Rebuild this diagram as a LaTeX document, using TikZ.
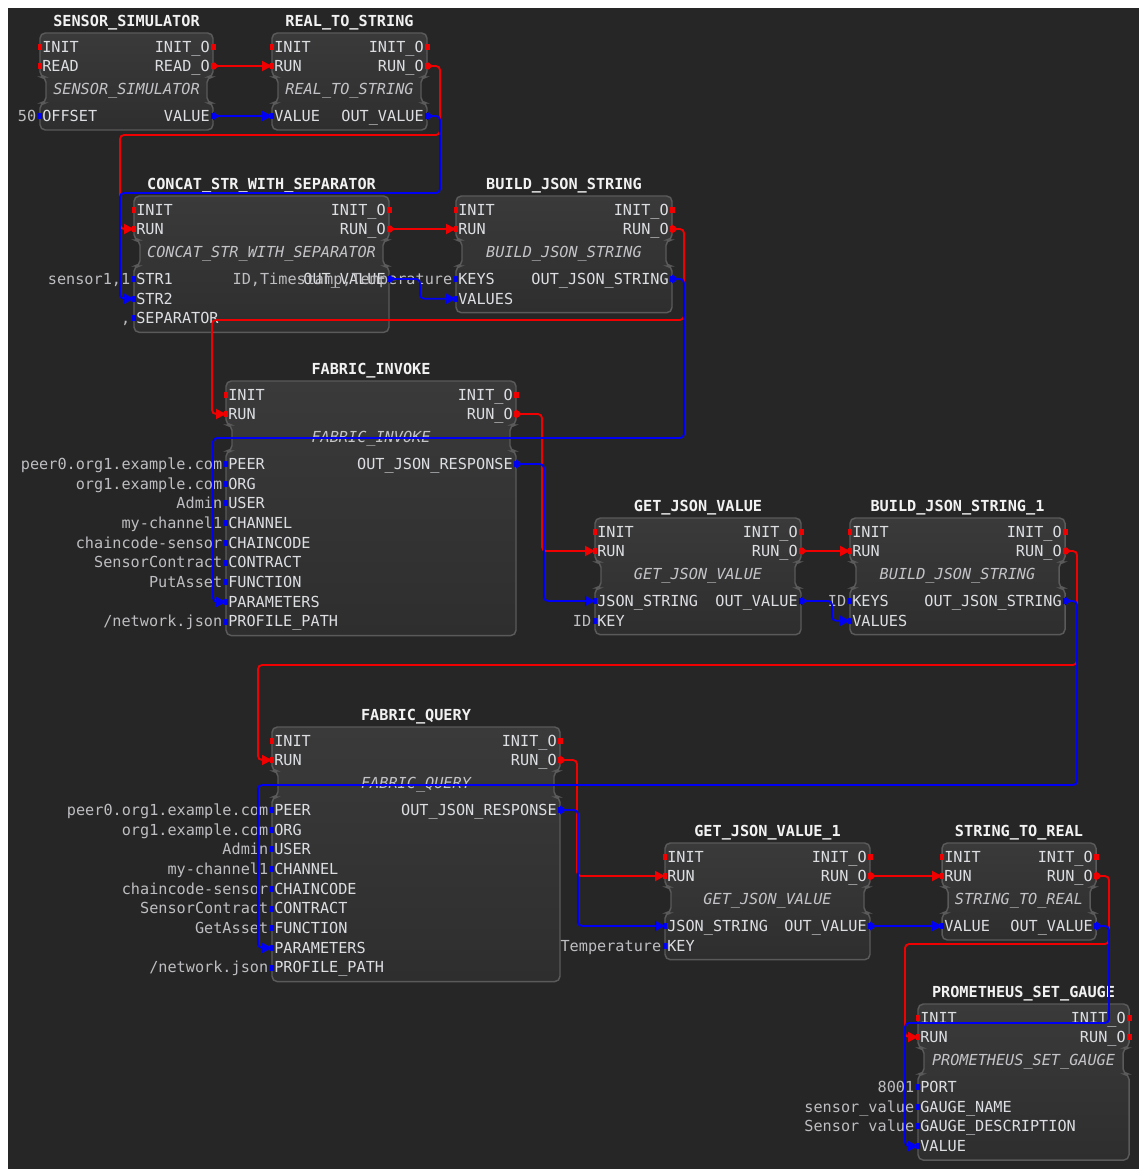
\documentclass[tikz,border=0pt]{standalone}
\usepackage{fontspec}
\newfontfamily\fbmono{DejaVu Sans Mono}
\usetikzlibrary{arrows.meta, calc}
\definecolor{BgDark}  {HTML}{262626}
\definecolor{BoxTop}  {HTML}{3A3A3A}
\definecolor{BoxBot}  {HTML}{2E2E2E}
\definecolor{BoxLine} {HTML}{5A5A5A}
\definecolor{EvRed}   {HTML}{F00000}
\definecolor{DtBlue}  {HTML}{0000F5}
\definecolor{PortTxt} {HTML}{DCDEE2}
\definecolor{TypeTxt} {HTML}{C4C4C8}
\definecolor{CstTxt}  {HTML}{BEBEC2}
\definecolor{TtlTxt}  {HTML}{F2F2F2}
\tikzset{
  fbbox/.style={
    draw=BoxLine, line width=1.1pt, rounded corners=4pt,
    top color=BoxTop, bottom color=BoxBot,
  },
  fbtitle/.style={
    font=\fbmono\bfseries\fontsize{11.4}{13}\selectfont,
    text=TtlTxt, inner sep=0pt,
  },
  fbtype/.style={
    font=\fbmono\itshape\fontsize{11.4}{13}\selectfont,
    text=TypeTxt, inner sep=0pt,
  },
  plbl/.style={
    font=\fbmono\fontsize{11.4}{13}\selectfont, text=PortTxt,
    inner sep=0pt, text height=8pt, text depth=0pt,
  },
  cstlbl/.style={
    font=\fbmono\fontsize{11.4}{13}\selectfont, text=CstTxt,
    inner sep=0pt, text height=8pt, text depth=0pt,
  },
  evw/.style={
    draw=EvRed, line width=1.4pt, rounded corners=3pt,
    {Triangle[length=4.5pt,width=6.5pt,reversed]}-{Triangle[length=7.5pt,width=7.5pt]},
  },
  dtw/.style={
    draw=DtBlue, line width=1.4pt, rounded corners=3pt,
    {Triangle[length=4.5pt,width=6.5pt,reversed]}-{Triangle[length=7.5pt,width=7.5pt]},
  },
}
% block frame: name, title, type, number of data rows (uses \fbL \fbT \fbR)
\newcommand{\fbframe}[4]{%
  \pgfmathsetmacro{\fbB}{\fbT+83+19.7*(#4-1)+14}
  \path[fbbox] (\fbL,\fbT) -- (\fbR,\fbT) -- (\fbR,\fbT+44) -- (\fbR-6,\fbT+44)
    -- (\fbR-6,\fbT+70) -- (\fbR,\fbT+70) -- (\fbR,\fbB) -- (\fbL,\fbB)
    -- (\fbL,\fbT+70) -- (\fbL+6,\fbT+70) -- (\fbL+6,\fbT+44) -- (\fbL,\fbT+44) -- cycle;
  \node[fbtitle] (#1) at ({(\fbL+\fbR)/2},\fbT-10) {#2};
  \node[fbtype] (#1-type) at ({(\fbL+\fbR)/2},\fbT+58) {#3};
}
% ports: id, label, row
\newcommand{\evin}[3]{%
  \coordinate (#1) at (\fbL,\fbT+14+19*#3);
  \fill[EvRed] ($(#1)+(-2.5,-3)$) rectangle ($(#1)+(2,3)$);
  \node[plbl, anchor=west] (#1-l) at ($(#1)+(2,0)$) {#2};
}
\newcommand{\evout}[3]{%
  \coordinate (#1) at (\fbR,\fbT+14+19*#3);
  \fill[EvRed] ($(#1)+(-2,-3)$) rectangle ($(#1)+(2.5,3)$);
  \node[plbl, anchor=east] (#1-l) at ($(#1)+(-3,0)$) {#2};
}
\newcommand{\dtin}[3]{%
  \coordinate (#1) at (\fbL,\fbT+83+19.7*#3);
  \fill[DtBlue] ($(#1)+(-2.5,-3)$) rectangle ($(#1)+(2,3)$);
  \node[plbl, anchor=west] (#1-l) at ($(#1)+(2,0)$) {#2};
}
\newcommand{\dtout}[3]{%
  \coordinate (#1) at (\fbR,\fbT+83+19.7*#3);
  \fill[DtBlue] ($(#1)+(-2,-3)$) rectangle ($(#1)+(2.5,3)$);
  \node[plbl, anchor=east] (#1-l) at ($(#1)+(-3,0)$) {#2};
}
\newcommand{\cst}[2]{%
  \node[cstlbl, anchor=east] (#1-c) at ($(#1)+(-3.5,0)$) {#2};
}

\begin{document}
\begin{tikzpicture}[x=0.75pt,y=-0.75pt]
  \useasboundingbox (0,0) rectangle (1139,1169);
  \fill[white] (0,0) rectangle (1139,1169);
  \fill[BgDark] (8,8) rectangle (1139,1169);

  % SENSOR_SIMULATOR
  \def\fbL{40}\def\fbT{33}\def\fbR{213}
  \fbframe{sim}{SENSOR\_SIMULATOR}{SENSOR\_SIMULATOR}{1}
  \evin{sim-init}{INIT}{0}      \evin{sim-read}{READ}{1}
  \evout{sim-initO}{INIT\_O}{0} \evout{sim-readO}{READ\_O}{1}
  \dtin{sim-offset}{OFFSET}{0}  \cst{sim-offset}{50}
  \dtout{sim-value}{VALUE}{0}

  % REAL_TO_STRING
  \def\fbL{272}\def\fbT{33}\def\fbR{427}
  \fbframe{r2s}{REAL\_TO\_STRING}{REAL\_TO\_STRING}{1}
  \evin{r2s-init}{INIT}{0}      \evin{r2s-run}{RUN}{1}
  \evout{r2s-initO}{INIT\_O}{0} \evout{r2s-runO}{RUN\_O}{1}
  \dtin{r2s-value}{VALUE}{0}
  \dtout{r2s-outvalue}{OUT\_VALUE}{0}

  % CONCAT_STR_WITH_SEPARATOR
  \def\fbL{134}\def\fbT{196}\def\fbR{389}
  \fbframe{concat}{CONCAT\_STR\_WITH\_SEPARATOR}{CONCAT\_STR\_WITH\_SEPARATOR}{3}
  \evin{concat-init}{INIT}{0}      \evin{concat-run}{RUN}{1}
  \evout{concat-initO}{INIT\_O}{0} \evout{concat-runO}{RUN\_O}{1}
  \dtin{concat-str1}{STR1}{0}      \cst{concat-str1}{sensor1,1}
  \dtin{concat-str2}{STR2}{1}
  \dtin{concat-sep}{SEPARATOR}{2}  \cst{concat-sep}{,}
  \dtout{concat-outvalue}{OUT\_VALUE}{0}

  % BUILD_JSON_STRING
  \def\fbL{456}\def\fbT{196}\def\fbR{672}
  \fbframe{bjs}{BUILD\_JSON\_STRING}{BUILD\_JSON\_STRING}{2}
  \evin{bjs-init}{INIT}{0}      \evin{bjs-run}{RUN}{1}
  \evout{bjs-initO}{INIT\_O}{0} \evout{bjs-runO}{RUN\_O}{1}
  \dtin{bjs-keys}{KEYS}{0}      \cst{bjs-keys}{ID,Timestamp,Temperature}
  \dtin{bjs-values}{VALUES}{1}
  \dtout{bjs-outjson}{OUT\_JSON\_STRING}{0}

  % FABRIC_INVOKE
  \def\fbL{226}\def\fbT{381}\def\fbR{516}
  \fbframe{finv}{FABRIC\_INVOKE}{FABRIC\_INVOKE}{9}
  \evin{finv-init}{INIT}{0}      \evin{finv-run}{RUN}{1}
  \evout{finv-initO}{INIT\_O}{0} \evout{finv-runO}{RUN\_O}{1}
  \foreach \pid/\plb/\pr in {peer/PEER/0, org/ORG/1, user/USER/2,
      channel/CHANNEL/3, chaincode/CHAINCODE/4, contract/CONTRACT/5,
      function/FUNCTION/6, parameters/PARAMETERS/7, profile/PROFILE\_PATH/8}{
    \dtin{finv-\pid}{\plb}{\pr}
  }
  \foreach \pid/\cv in {peer/peer0.org1.example.com, org/org1.example.com,
      user/Admin, channel/my-channel1, chaincode/chaincode-sensor,
      contract/SensorContract, function/PutAsset}{
    \cst{finv-\pid}{\cv}
  }
  \cst{finv-profile}{/network.json}
  \dtout{finv-outjson}{OUT\_JSON\_RESPONSE}{0}

  % GET_JSON_VALUE
  \def\fbL{595}\def\fbT{518}\def\fbR{801}
  \fbframe{gjv}{GET\_JSON\_VALUE}{GET\_JSON\_VALUE}{2}
  \evin{gjv-init}{INIT}{0}      \evin{gjv-run}{RUN}{1}
  \evout{gjv-initO}{INIT\_O}{0} \evout{gjv-runO}{RUN\_O}{1}
  \dtin{gjv-json}{JSON\_STRING}{0}
  \dtin{gjv-key}{KEY}{1}        \cst{gjv-key}{ID}
  \dtout{gjv-outvalue}{OUT\_VALUE}{0}

  % BUILD_JSON_STRING_1
  \def\fbL{850}\def\fbT{518}\def\fbR{1065}
  \fbframe{bjs1}{BUILD\_JSON\_STRING\_1}{BUILD\_JSON\_STRING}{2}
  \evin{bjs1-init}{INIT}{0}      \evin{bjs1-run}{RUN}{1}
  \evout{bjs1-initO}{INIT\_O}{0} \evout{bjs1-runO}{RUN\_O}{1}
  \dtin{bjs1-keys}{KEYS}{0}      \cst{bjs1-keys}{ID}
  \dtin{bjs1-values}{VALUES}{1}
  \dtout{bjs1-outjson}{OUT\_JSON\_STRING}{0}

  % FABRIC_QUERY
  \def\fbL{272}\def\fbT{727}\def\fbR{560}
  \fbframe{fqry}{FABRIC\_QUERY}{FABRIC\_QUERY}{9}
  \evin{fqry-init}{INIT}{0}      \evin{fqry-run}{RUN}{1}
  \evout{fqry-initO}{INIT\_O}{0} \evout{fqry-runO}{RUN\_O}{1}
  \foreach \pid/\plb/\pr in {peer/PEER/0, org/ORG/1, user/USER/2,
      channel/CHANNEL/3, chaincode/CHAINCODE/4, contract/CONTRACT/5,
      function/FUNCTION/6, parameters/PARAMETERS/7, profile/PROFILE\_PATH/8}{
    \dtin{fqry-\pid}{\plb}{\pr}
  }
  \foreach \pid/\cv in {peer/peer0.org1.example.com, org/org1.example.com,
      user/Admin, channel/my-channel1, chaincode/chaincode-sensor,
      contract/SensorContract, function/GetAsset}{
    \cst{fqry-\pid}{\cv}
  }
  \cst{fqry-profile}{/network.json}
  \dtout{fqry-outjson}{OUT\_JSON\_RESPONSE}{0}

  % GET_JSON_VALUE_1
  \def\fbL{665}\def\fbT{843}\def\fbR{870}
  \fbframe{gjv1}{GET\_JSON\_VALUE\_1}{GET\_JSON\_VALUE}{2}
  \evin{gjv1-init}{INIT}{0}      \evin{gjv1-run}{RUN}{1}
  \evout{gjv1-initO}{INIT\_O}{0} \evout{gjv1-runO}{RUN\_O}{1}
  \dtin{gjv1-json}{JSON\_STRING}{0}
  \dtin{gjv1-key}{KEY}{1}        \cst{gjv1-key}{Temperature}
  \dtout{gjv1-outvalue}{OUT\_VALUE}{0}

  % STRING_TO_REAL
  \def\fbL{942}\def\fbT{843}\def\fbR{1096}
  \fbframe{s2r}{STRING\_TO\_REAL}{STRING\_TO\_REAL}{1}
  \evin{s2r-init}{INIT}{0}      \evin{s2r-run}{RUN}{1}
  \evout{s2r-initO}{INIT\_O}{0} \evout{s2r-runO}{RUN\_O}{1}
  \dtin{s2r-value}{VALUE}{0}
  \dtout{s2r-outvalue}{OUT\_VALUE}{0}

  % PROMETHEUS_SET_GAUGE
  \def\fbL{918}\def\fbT{1004}\def\fbR{1129}
  \fbframe{psg}{PROMETHEUS\_SET\_GAUGE}{PROMETHEUS\_SET\_GAUGE}{4}
  \evin{psg-init}{INIT}{0}      \evin{psg-run}{RUN}{1}
  \evout{psg-initO}{INIT\_O}{0} \evout{psg-runO}{RUN\_O}{1}
  \dtin{psg-port}{PORT}{0}              \cst{psg-port}{8001}
  \dtin{psg-gname}{GAUGE\_NAME}{1}      \cst{psg-gname}{sensor\_value}
  \dtin{psg-gdesc}{GAUGE\_DESCRIPTION}{2} \cst{psg-gdesc}{Sensor value}
  \dtin{psg-value}{VALUE}{3}

  % event connections
  \draw[evw] (sim-readO) -- (r2s-run);
  \draw[evw] (r2s-runO) -- ++(13,0) -- ++(0,69)
    -| ($(concat-run)+(-14,0)$) -- (concat-run);
  \draw[evw] (concat-runO) -- (bjs-run);
  \draw[evw] (bjs-runO) -- ++(12,0) -- ++(0,91)
    -| ($(finv-run)+(-14,0)$) -- (finv-run);
  \draw[evw] (finv-runO) -- ++(26,0) |- (gjv-run);
  \draw[evw] (gjv-runO) -- (bjs1-run);
  \draw[evw] (bjs1-runO) -- ++(12,0) -- ++(0,114)
    -| ($(fqry-run)+(-14,0)$) -- (fqry-run);
  \draw[evw] (fqry-runO) -- ++(17,0) |- (gjv1-run);
  \draw[evw] (gjv1-runO) -- (s2r-run);
  \draw[evw] (s2r-runO) -- ++(13,0) -- ++(0,68)
    -| ($(psg-run)+(-13,0)$) -- (psg-run);

  % data connections
  \draw[dtw] (sim-value) -- (r2s-value);
  \draw[dtw] (r2s-outvalue) -- ++(13,0) -- ++(0,77)
    -| ($(concat-str2)+(-14,0)$) -- (concat-str2);
  \draw[dtw] (concat-outvalue) -- ++(31,0) |- (bjs-values);
  \draw[dtw] (bjs-outjson) -- ++(12,0) -- ++(0,159)
    -| ($(finv-parameters)+(-13,0)$) -- (finv-parameters);
  \draw[dtw] (finv-outjson) -- ++(28,0) |- (gjv-json);
  \draw[dtw] (gjv-outvalue) -- ++(31,0) |- (bjs1-values);
  \draw[dtw] (bjs1-outjson) -- ++(12,0) -- ++(0,184)
    -| ($(fqry-parameters)+(-14,0)$) -- (fqry-parameters);
  \draw[dtw] (fqry-outjson) -- ++(18,0) |- (gjv1-json);
  \draw[dtw] (gjv1-outvalue) -- (s2r-value);
  \draw[dtw] (s2r-outvalue) -- ++(13,0) -- ++(0,97)
    -| ($(psg-value)+(-13,0)$) -- (psg-value);
\end{tikzpicture}
\end{document}
